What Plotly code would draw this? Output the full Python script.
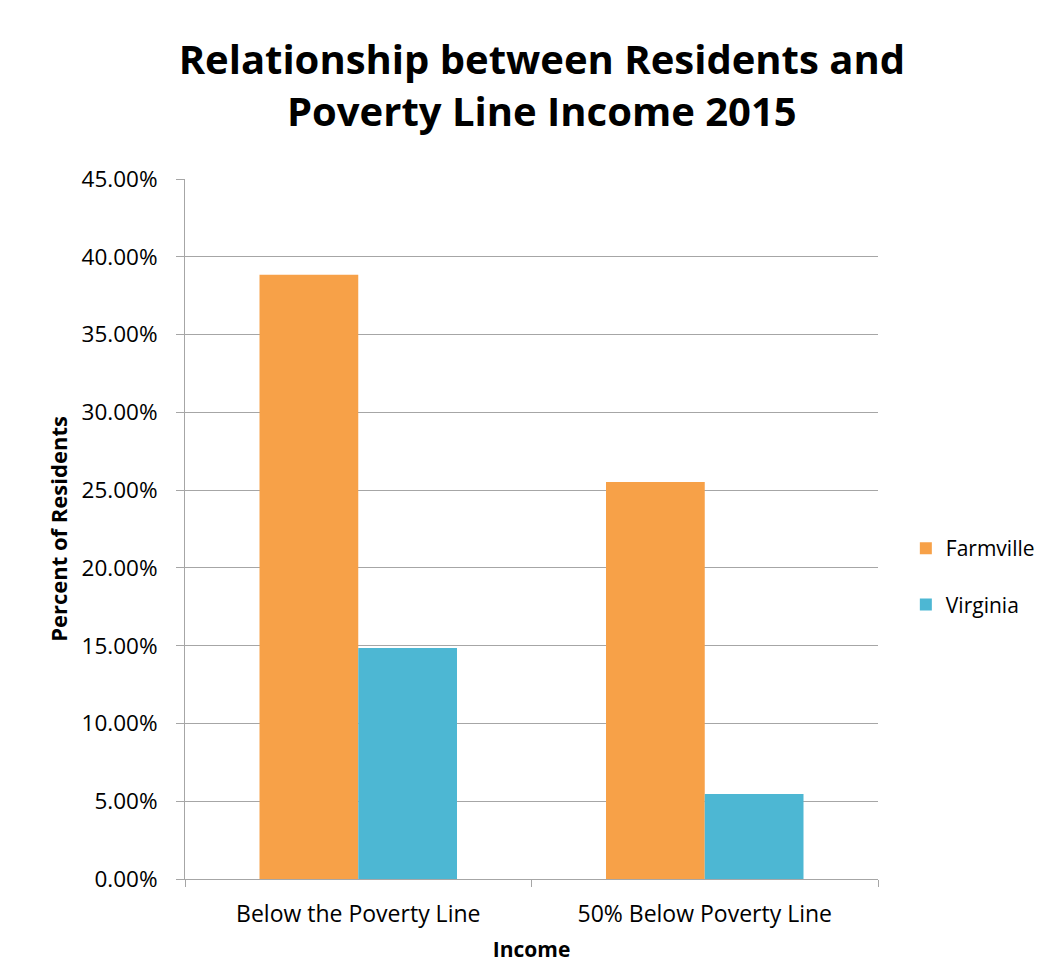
import plotly.graph_objects as go

categories = ["Below the Poverty Line", "50% Below Poverty Line"]
farmville = [0.3885, 0.2552]
virginia = [0.1485, 0.0546]
tick_vals = [0, 0.05, 0.10, 0.15, 0.20, 0.25, 0.30, 0.35, 0.40, 0.45]
tick_text = ["0.00%", "5.00%", "10.00%", "15.00%", "20.00%", "25.00%",
             "30.00%", "35.00%", "40.00%", "45.00%"]

FONT = "Open Sans"

fig = go.Figure()
fig.add_trace(go.Bar(x=categories, y=farmville, name="Farmville",
                     marker=dict(color="#F7A148", line=dict(width=0)),
                     legendgroup="a"))
fig.add_trace(go.Bar(x=categories, y=virginia, name="Virginia",
                     marker=dict(color="#4DB7D3", line=dict(width=0)),
                     legendgroup="b"))

fig.update_layout(
    width=1040, height=963,
    margin=dict(l=185, r=162, t=179, b=84, autoexpand=False),
    paper_bgcolor="white", plot_bgcolor="white",
    barmode="group", bargap=0.43, bargroupgap=0,
    font=dict(family=FONT, color="black", size=22),
    title=dict(text="<b>Relationship between Residents and<br>Poverty Line Income 2015</b>",
               x=0.521, xanchor="center", yref="container", y=0.923, yanchor="middle",
               font=dict(family=FONT, size=40, color="black")),
    legend=dict(xref="container", x=0.871, xanchor="left",
                yref="paper", y=0.432, yanchor="middle",
                font=dict(family=FONT, size=21),
                tracegroupgap=26, itemwidth=30,
                bgcolor="rgba(0,0,0,0)"),
    showlegend=True,
)
fig.update_xaxes(
    showline=True, linecolor="#A6A6A6", linewidth=1,
    ticks="outside", tickson="boundaries", ticklen=7, tickcolor="#A6A6A6",
    tickfont=dict(family=FONT, size=23), ticklabelstandoff=14,
    title=dict(text="<b>Income</b>", font=dict(family=FONT, size=21), standoff=22),
)
fig.update_yaxes(
    range=[0, 0.45], tickvals=tick_vals, ticktext=tick_text,
    showline=True, linecolor="#A6A6A6", linewidth=1,
    ticks="outside", ticklen=8, tickcolor="#A6A6A6",
    showgrid=True, gridcolor="#A6A6A6", gridwidth=1,
    zeroline=False,
    tickfont=dict(family=FONT, size=22.5), ticklabelstandoff=14,
    title=dict(text="<b>Percent of Residents</b>", font=dict(family=FONT, size=22), standoff=7),
)

fig.write_html("out.html")
